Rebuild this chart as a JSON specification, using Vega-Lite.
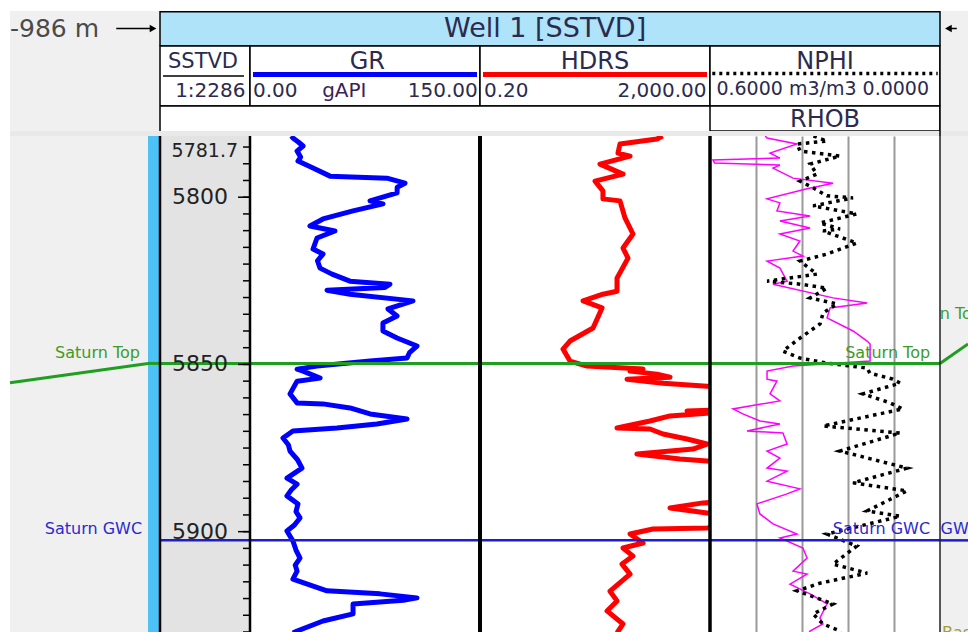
{
"$schema":"https://vega.github.io/schema/vega-lite/v6.json",
"background":"#ffffff",
"padding":{"left":4,"top":10,"right":0,"bottom":0},
"spacing":0,
"bounds":"flush",
"columns":7,
"config":{"view":{"stroke":null},"font":"DejaVu Sans","concat":{"spacing":0}},
"datasets":{
"gr":[
{"depth":5781.7,"GR":27.0},{"depth":5782.3,"GR":28.0},{"depth":5783.5,"GR":31.5},{"depth":5784.7,"GR":34.6},{"depth":5786.2,"GR":30.7},{"depth":5788.0,"GR":33.0},{"depth":5789.2,"GR":31.3},{"depth":5791.3,"GR":41.1},{"depth":5793.7,"GR":52.2},{"depth":5794.3,"GR":89.3},{"depth":5795.8,"GR":101.1},{"depth":5797.0,"GR":96.0},{"depth":5798.7,"GR":95.9},{"depth":5801.1,"GR":78.3},{"depth":5802.0,"GR":86.7},{"depth":5804.1,"GR":67.2},{"depth":5806.5,"GR":47.6},{"depth":5808.6,"GR":39.1},{"depth":5810.1,"GR":55.4},{"depth":5812.2,"GR":43.7},{"depth":5815.5,"GR":41.1},{"depth":5817.0,"GR":47.6},{"depth":5819.0,"GR":44.0},{"depth":5821.2,"GR":45.7},{"depth":5823.0,"GR":53.5},{"depth":5825.1,"GR":65.2},{"depth":5826.0,"GR":91.3},{"depth":5827.0,"GR":88.0},{"depth":5827.8,"GR":50.2},{"depth":5829.0,"GR":65.2},{"depth":5831.0,"GR":106.3},{"depth":5833.4,"GR":90.0},{"depth":5835.5,"GR":95.9},{"depth":5837.6,"GR":86.7},{"depth":5840.0,"GR":86.7},{"depth":5842.1,"GR":95.9},{"depth":5844.5,"GR":108.9},{"depth":5846.5,"GR":104.0},{"depth":5848.1,"GR":102.4},{"depth":5849.0,"GR":78.3},{"depth":5850.5,"GR":43.7},{"depth":5851.4,"GR":30.7},{"depth":5852.0,"GR":34.6},{"depth":5854.1,"GR":45.7},{"depth":5855.0,"GR":30.7},{"depth":5858.8,"GR":26.1},{"depth":5861.5,"GR":30.7},{"depth":5861.8,"GR":47.6},{"depth":5863.0,"GR":65.2},{"depth":5864.8,"GR":78.3},{"depth":5866.3,"GR":102.4},{"depth":5867.8,"GR":82.8},{"depth":5869.0,"GR":56.7},{"depth":5869.9,"GR":28.0},{"depth":5872.0,"GR":21.5},{"depth":5874.0,"GR":25.0},{"depth":5875.9,"GR":26.1},{"depth":5878.5,"GR":31.0},{"depth":5881.0,"GR":33.9},{"depth":5884.0,"GR":24.1},{"depth":5885.8,"GR":30.7},{"depth":5887.5,"GR":27.0},{"depth":5889.3,"GR":24.1},{"depth":5891.7,"GR":31.3},{"depth":5894.0,"GR":30.0},{"depth":5895.9,"GR":32.6},{"depth":5898.0,"GR":29.0},{"depth":5899.8,"GR":24.1},{"depth":5902.8,"GR":28.0},{"depth":5905.5,"GR":30.0},{"depth":5907.9,"GR":32.6},{"depth":5910.0,"GR":29.5},{"depth":5911.8,"GR":30.7},{"depth":5914.2,"GR":28.0},{"depth":5917.7,"GR":50.2},{"depth":5918.6,"GR":84.8},{"depth":5919.8,"GR":108.9},{"depth":5920.5,"GR":100.0},{"depth":5921.6,"GR":67.2},{"depth":5924.6,"GR":67.2},{"depth":5926.7,"GR":47.6},{"depth":5929.7,"GR":30.7},{"depth":5930.3,"GR":28.0}
],
"hdrs":[
{"depth":5781.7,"HDRS":300},{"depth":5782.6,"HDRS":239},{"depth":5784.1,"HDRS":54.4},{"depth":5786.8,"HDRS":50.2},{"depth":5787.7,"HDRS":81.3},{"depth":5790.1,"HDRS":24.4},{"depth":5793.1,"HDRS":61.4},{"depth":5795.2,"HDRS":20},{"depth":5798.1,"HDRS":27.5},{"depth":5800.5,"HDRS":27.5},{"depth":5801.1,"HDRS":54.4},{"depth":5806.2,"HDRS":66.5},{"depth":5811.0,"HDRS":91.6},{"depth":5815.2,"HDRS":61.4},{"depth":5818.2,"HDRS":75},{"depth":5824.2,"HDRS":48.3},{"depth":5828.1,"HDRS":48.3},{"depth":5829.0,"HDRS":27.5},{"depth":5831.0,"HDRS":12.4},{"depth":5833.1,"HDRS":26.5},{"depth":5839.1,"HDRS":18.5},{"depth":5843.0,"HDRS":7.35},{"depth":5845.4,"HDRS":5.55},{"depth":5849.0,"HDRS":7.35},{"depth":5850.5,"HDRS":14.5},{"depth":5851.4,"HDRS":137},{"depth":5852.0,"HDRS":81},{"depth":5852.9,"HDRS":239},{"depth":5853.8,"HDRS":403},{"depth":5854.4,"HDRS":72},{"depth":5855.6,"HDRS":305},{"depth":5856.5,"HDRS":1774},{"depth":5857.0,"HDRS":6000},{"depth":5863.5,"HDRS":6000},{"depth":5863.9,"HDRS":796},{"depth":5864.5,"HDRS":2000},{"depth":5865.4,"HDRS":403},{"depth":5866.9,"HDRS":181},{"depth":5869.0,"HDRS":48.3},{"depth":5869.3,"HDRS":181},{"depth":5870.8,"HDRS":305},{"depth":5872.3,"HDRS":796},{"depth":5873.8,"HDRS":1774},{"depth":5875.3,"HDRS":1012},{"depth":5876.8,"HDRS":107},{"depth":5878.3,"HDRS":601},{"depth":5878.9,"HDRS":1774},{"depth":5879.5,"HDRS":6000},{"depth":5891.0,"HDRS":6000},{"depth":5891.4,"HDRS":1510},{"depth":5892.9,"HDRS":403},{"depth":5894.4,"HDRS":1774},{"depth":5895.0,"HDRS":6000},{"depth":5898.5,"HDRS":6000},{"depth":5898.9,"HDRS":1774},{"depth":5899.2,"HDRS":204},{"depth":5900.7,"HDRS":81.3},{"depth":5903.4,"HDRS":137},{"depth":5904.9,"HDRS":61.4},{"depth":5907.3,"HDRS":91.6},{"depth":5909.7,"HDRS":59},{"depth":5912.7,"HDRS":81.3},{"depth":5917.8,"HDRS":36.5},{"depth":5920.7,"HDRS":48.3},{"depth":5923.7,"HDRS":32.4},{"depth":5927.6,"HDRS":61.4},{"depth":5930.3,"HDRS":48.3}
],
"nphi":[
{"depth":5781.7,"NPHI":0.33},{"depth":5783.2,"NPHI":0.295},{"depth":5784.1,"NPHI":0.373},{"depth":5786.2,"NPHI":0.365},{"depth":5787.7,"NPHI":0.261},{"depth":5790.1,"NPHI":0.339},{"depth":5793.1,"NPHI":0.321},{"depth":5795.2,"NPHI":0.365},{"depth":5797.2,"NPHI":0.331},{"depth":5799.6,"NPHI":0.295},{"depth":5800.2,"NPHI":0.227},{"depth":5802.6,"NPHI":0.331},{"depth":5805.0,"NPHI":0.217},{"depth":5807.7,"NPHI":0.313},{"depth":5809.5,"NPHI":0.261},{"depth":5810.1,"NPHI":0.305},{"depth":5813.7,"NPHI":0.217},{"depth":5817.0,"NPHI":0.295},{"depth":5819.1,"NPHI":0.365},{"depth":5823.0,"NPHI":0.321},{"depth":5825.1,"NPHI":0.451},{"depth":5826.0,"NPHI":0.365},{"depth":5827.2,"NPHI":0.295},{"depth":5830.1,"NPHI":0.339},{"depth":5831.9,"NPHI":0.269},{"depth":5834.6,"NPHI":0.305},{"depth":5837.9,"NPHI":0.313},{"depth":5842.1,"NPHI":0.365},{"depth":5846.0,"NPHI":0.41},{"depth":5848.1,"NPHI":0.365},{"depth":5849.6,"NPHI":0.295},{"depth":5851.1,"NPHI":0.19},{"depth":5852.6,"NPHI":0.183},{"depth":5854.4,"NPHI":0.123},{"depth":5855.6,"NPHI":0.104},{"depth":5858.8,"NPHI":0.201},{"depth":5861.5,"NPHI":0.13},{"depth":5863.3,"NPHI":0.097},{"depth":5868.4,"NPHI":0.305},{"depth":5870.5,"NPHI":0.104},{"depth":5875.9,"NPHI":0.261},{"depth":5881.0,"NPHI":0.086},{"depth":5885.4,"NPHI":0.227},{"depth":5887.8,"NPHI":0.086},{"depth":5893.8,"NPHI":0.19},{"depth":5895.4,"NPHI":0.104},{"depth":5900.7,"NPHI":0.295},{"depth":5904.3,"NPHI":0.217},{"depth":5909.7,"NPHI":0.279},{"depth":5912.4,"NPHI":0.19},{"depth":5915.4,"NPHI":0.313},{"depth":5917.7,"NPHI":0.373},{"depth":5921.6,"NPHI":0.279},{"depth":5924.6,"NPHI":0.331},{"depth":5927.6,"NPHI":0.305},{"depth":5929.7,"NPHI":0.261},{"depth":5930.3,"NPHI":0.26}
],
"rhob":[
{"depth":5781.7,"RHOB":2.19},{"depth":5782.3,"RHOB":2.198},{"depth":5784.1,"RHOB":2.328},{"depth":5786.8,"RHOB":2.211},{"depth":5788.3,"RHOB":2.254},{"depth":5788.9,"RHOB":1.963},{"depth":5789.8,"RHOB":1.97},{"depth":5790.4,"RHOB":2.254},{"depth":5791.3,"RHOB":2.224},{"depth":5794.3,"RHOB":2.311},{"depth":5795.8,"RHOB":2.485},{"depth":5797.5,"RHOB":2.372},{"depth":5800.5,"RHOB":2.198},{"depth":5801.7,"RHOB":2.254},{"depth":5804.1,"RHOB":2.241},{"depth":5805.6,"RHOB":2.385},{"depth":5807.1,"RHOB":2.254},{"depth":5809.2,"RHOB":2.385},{"depth":5811.0,"RHOB":2.254},{"depth":5813.1,"RHOB":2.341},{"depth":5816.1,"RHOB":2.311},{"depth":5817.6,"RHOB":2.354},{"depth":5819.1,"RHOB":2.198},{"depth":5821.2,"RHOB":2.254},{"depth":5825.1,"RHOB":2.285},{"depth":5826.0,"RHOB":2.224},{"depth":5830.1,"RHOB":2.485},{"depth":5831.6,"RHOB":2.633},{"depth":5833.1,"RHOB":2.472},{"depth":5836.1,"RHOB":2.459},{"depth":5840.0,"RHOB":2.572},{"depth":5843.0,"RHOB":2.633},{"depth":5843.9,"RHOB":2.646},{"depth":5849.0,"RHOB":2.646},{"depth":5850.5,"RHOB":2.311},{"depth":5852.0,"RHOB":2.198},{"depth":5854.4,"RHOB":2.198},{"depth":5855.0,"RHOB":2.241},{"depth":5858.8,"RHOB":2.211},{"depth":5860.9,"RHOB":2.254},{"depth":5863.3,"RHOB":2.05},{"depth":5864.8,"RHOB":2.093},{"depth":5866.9,"RHOB":2.167},{"depth":5867.8,"RHOB":2.254},{"depth":5869.9,"RHOB":2.111},{"depth":5870.5,"RHOB":2.267},{"depth":5873.8,"RHOB":2.285},{"depth":5875.9,"RHOB":2.198},{"depth":5878.0,"RHOB":2.254},{"depth":5881.0,"RHOB":2.198},{"depth":5881.9,"RHOB":2.285},{"depth":5884.9,"RHOB":2.198},{"depth":5887.2,"RHOB":2.341},{"depth":5888.7,"RHOB":2.285},{"depth":5891.7,"RHOB":2.154},{"depth":5894.7,"RHOB":2.167},{"depth":5897.7,"RHOB":2.224},{"depth":5900.7,"RHOB":2.328},{"depth":5901.9,"RHOB":2.254},{"depth":5904.9,"RHOB":2.354},{"depth":5907.9,"RHOB":2.372},{"depth":5911.8,"RHOB":2.311},{"depth":5912.7,"RHOB":2.372},{"depth":5915.7,"RHOB":2.298},{"depth":5918.6,"RHOB":2.385},{"depth":5921.6,"RHOB":2.459},{"depth":5925.8,"RHOB":2.428},{"depth":5927.6,"RHOB":2.441},{"depth":5929.7,"RHOB":2.385},{"depth":5930.3,"RHOB":2.38}
],
"ticks":[{"depth":5785},{"depth":5790},{"depth":5795},{"depth":5800},{"depth":5805},{"depth":5810},{"depth":5815},{"depth":5820},{"depth":5825},{"depth":5830},{"depth":5835},{"depth":5840},{"depth":5845},{"depth":5850},{"depth":5855},{"depth":5860},{"depth":5865},{"depth":5870},{"depth":5875},{"depth":5880},{"depth":5885},{"depth":5890},{"depth":5895},{"depth":5900},{"depth":5905},{"depth":5910},{"depth":5915},{"depth":5920},{"depth":5925},{"depth":5930}],
"major":[{"depth":5800,"label":"5800"},{"depth":5850,"label":"5850"},{"depth":5900,"label":"5900"}]
},
"concat":[
 {"width":138,"height":35,"view":{"fill":"#f0f0f0","stroke":null},
  "layer":[
   {"data":{"values":[{"label":"-986 m"}]},"mark":{"type":"text","align":"left","baseline":"middle","fontSize":25,"color":"#4a4a4a"},
    "encoding":{"text":{"field":"label"},"x":{"datum":0,"type":"quantitative","scale":{"domain":[0,1],"nice":false,"zero":false},"axis":null},"y":{"datum":0.5,"type":"quantitative","scale":{"domain":[0,1],"nice":false,"zero":false},"axis":null}}},
   {"data":{"values":[{}]},"mark":{"type":"rule","color":"#000000","strokeWidth":1.5},
    "encoding":{"x":{"datum":0.77,"type":"quantitative","axis":null},"x2":{"datum":1},"y":{"datum":0.5,"type":"quantitative","axis":null}}}
  ]},
 {"width":12,"height":35,"view":{"fill":"#f0f0f0","stroke":null},
  "layer":[
   {"data":{"values":[{}]},"mark":{"type":"rule","color":"#000000","strokeWidth":1.5},
    "encoding":{"x":{"datum":0,"type":"quantitative","scale":{"domain":[0,1],"nice":false,"zero":false},"axis":null},"x2":{"datum":0.3},"y":{"datum":0.5,"type":"quantitative","scale":{"domain":[0,1],"nice":false,"zero":false},"axis":null}}},
   {"data":{"values":[{}]},"mark":{"type":"point","shape":"triangle-right","filled":true,"color":"#000000","size":60,"opacity":1},
    "encoding":{"x":{"datum":0.42,"type":"quantitative","axis":null},"y":{"datum":0.5,"type":"quantitative","axis":null}}}
  ]},
 {"width":90,"height":35,"view":{"fill":"#aee3fa","stroke":null},"data":{"values":[{}]},
  "layer":[
   {"mark":{"type":"rule","color":"#000000","strokeWidth":1.5},"encoding":{"y":{"datum":0.978,"type":"quantitative","scale":{"domain":[0,1],"nice":false,"zero":false},"axis":null}}},
   {"mark":{"type":"rule","color":"#000000","strokeWidth":1.5},"encoding":{"y":{"datum":0.0,"type":"quantitative","axis":null}}},
   {"mark":{"type":"rule","color":"#000000","strokeWidth":1.5},"encoding":{"x":{"datum":0,"type":"quantitative","scale":{"domain":[0,1],"nice":false,"zero":false},"axis":null}}}
  ]},
 {"width":230,"height":35,"view":{"fill":"#aee3fa","stroke":null},"data":{"values":[{}]},
  "layer":[
   {"mark":{"type":"rule","color":"#000000","strokeWidth":1.5},"encoding":{"y":{"datum":0.978,"type":"quantitative","scale":{"domain":[0,1],"nice":false,"zero":false},"axis":null}}},
   {"mark":{"type":"rule","color":"#000000","strokeWidth":1.5},"encoding":{"y":{"datum":0.0,"type":"quantitative","axis":null}}}
  ]},
 {"width":230,"height":35,"view":{"fill":"#aee3fa","stroke":null},"data":{"values":[{"label":"Well 1 [SSTVD]"}]},
  "layer":[
   {"mark":{"type":"rule","color":"#000000","strokeWidth":1.5},"encoding":{"y":{"datum":0.978,"type":"quantitative","scale":{"domain":[0,1],"nice":false,"zero":false},"axis":null}}},
   {"mark":{"type":"rule","color":"#000000","strokeWidth":1.5},"encoding":{"y":{"datum":0.0,"type":"quantitative","axis":null}}},
   {"mark":{"type":"text","align":"center","baseline":"middle","fontSize":27,"color":"#2b2b4f"},
    "encoding":{"text":{"field":"label"},"x":{"datum":0.283,"type":"quantitative","scale":{"domain":[0,1],"nice":false,"zero":false},"axis":null},"y":{"datum":0.5,"type":"quantitative","axis":null}}}
  ]},
 {"width":230,"height":35,"view":{"fill":"#aee3fa","stroke":null},"data":{"values":[{}]},
  "layer":[
   {"mark":{"type":"rule","color":"#000000","strokeWidth":1.5},"encoding":{"y":{"datum":0.978,"type":"quantitative","scale":{"domain":[0,1],"nice":false,"zero":false},"axis":null}}},
   {"mark":{"type":"rule","color":"#000000","strokeWidth":1.5},"encoding":{"y":{"datum":0.0,"type":"quantitative","axis":null}}}
  ]},
 {"width":28,"height":35,"view":{"fill":"#f0f0f0","stroke":null},"data":{"values":[{}]},
  "layer":[
   {"mark":{"type":"rule","color":"#000000","strokeWidth":1.5},"encoding":{"x":{"datum":0,"type":"quantitative","scale":{"domain":[0,1],"nice":false,"zero":false},"axis":null}}},
   {"mark":{"type":"rule","color":"#000000","strokeWidth":1.5},"encoding":{"x":{"datum":0.25,"type":"quantitative","axis":null},"x2":{"datum":0.6},"y":{"datum":0.5,"type":"quantitative","scale":{"domain":[0,1],"nice":false,"zero":false},"axis":null}}},
   {"mark":{"type":"point","shape":"triangle-left","filled":true,"color":"#000000","size":60,"opacity":1},"encoding":{"x":{"datum":0.3,"type":"quantitative","axis":null},"y":{"datum":0.5,"type":"quantitative","axis":null}}}
  ]},

 {"width":138,"height":60,"view":{"fill":"#f0f0f0","stroke":null},"data":{"values":[{}]},"mark":{"type":"text","text":""}},
 {"width":12,"height":60,"view":{"fill":"#f0f0f0","stroke":null},"data":{"values":[{}]},"mark":{"type":"text","text":""}},
 {"width":90,"height":60,"view":{"fill":"#ffffff","stroke":"#000000","strokeWidth":1.5},
  "layer":[
   {"data":{"values":[{"label":"SSTVD"}]},"mark":{"type":"text","align":"center","baseline":"middle","fontSize":21,"color":"#2b2b4f"},
    "encoding":{"text":{"field":"label"},"x":{"datum":0.478,"type":"quantitative","scale":{"domain":[0,1],"nice":false,"zero":false},"axis":null},"y":{"datum":0.733,"type":"quantitative","scale":{"domain":[0,1],"nice":false,"zero":false},"axis":null}}},
   {"data":{"values":[{}]},"mark":{"type":"rule","color":"#000000","strokeWidth":1.5},
    "encoding":{"x":{"datum":0.033,"type":"quantitative","axis":null},"x2":{"datum":0.933},"y":{"datum":0.5,"type":"quantitative","axis":null}}},
   {"data":{"values":[{"label":"1:2286"}]},"mark":{"type":"text","align":"right","baseline":"middle","fontSize":20,"color":"#2b2b4f"},
    "encoding":{"text":{"field":"label"},"x":{"datum":0.95,"type":"quantitative","axis":null},"y":{"datum":0.25,"type":"quantitative","axis":null}}}
  ]},
 {"width":230,"height":60,"view":{"fill":"#ffffff","stroke":"#000000","strokeWidth":1.5},
  "layer":[
   {"data":{"values":[{"label":"GR"}]},"mark":{"type":"text","align":"center","baseline":"middle","fontSize":24,"color":"#2b2b4f"},
    "encoding":{"text":{"field":"label"},"x":{"datum":0.51,"type":"quantitative","scale":{"domain":[0,1],"nice":false,"zero":false},"axis":null},"y":{"datum":0.74,"type":"quantitative","scale":{"domain":[0,1],"nice":false,"zero":false},"axis":null}}},
   {"data":{"values":[{}]},"mark":{"type":"rule","color":"#0000ff","strokeWidth":5},
    "encoding":{"x":{"datum":0.013,"type":"quantitative","axis":null},"x2":{"datum":0.987},"y":{"datum":0.525,"type":"quantitative","axis":null}}},
   {"data":{"values":[{"label":"0.00"}]},"mark":{"type":"text","align":"left","baseline":"middle","fontSize":20,"color":"#2b2b4f"},
    "encoding":{"text":{"field":"label"},"x":{"datum":0.013,"type":"quantitative","axis":null},"y":{"datum":0.25,"type":"quantitative","axis":null}}},
   {"data":{"values":[{"label":"gAPI"}]},"mark":{"type":"text","align":"center","baseline":"middle","fontSize":20,"color":"#3a1f5a"},
    "encoding":{"text":{"field":"label"},"x":{"datum":0.41,"type":"quantitative","axis":null},"y":{"datum":0.25,"type":"quantitative","axis":null}}},
   {"data":{"values":[{"label":"150.00"}]},"mark":{"type":"text","align":"right","baseline":"middle","fontSize":20,"color":"#2b2b4f"},
    "encoding":{"text":{"field":"label"},"x":{"datum":0.99,"type":"quantitative","axis":null},"y":{"datum":0.25,"type":"quantitative","axis":null}}}
  ]},
 {"width":230,"height":60,"view":{"fill":"#ffffff","stroke":"#000000","strokeWidth":1.5},
  "layer":[
   {"data":{"values":[{"label":"HDRS"}]},"mark":{"type":"text","align":"center","baseline":"middle","fontSize":24,"color":"#2b2b4f"},
    "encoding":{"text":{"field":"label"},"x":{"datum":0.5,"type":"quantitative","scale":{"domain":[0,1],"nice":false,"zero":false},"axis":null},"y":{"datum":0.74,"type":"quantitative","scale":{"domain":[0,1],"nice":false,"zero":false},"axis":null}}},
   {"data":{"values":[{}]},"mark":{"type":"rule","color":"#ff0000","strokeWidth":5},
    "encoding":{"x":{"datum":0.013,"type":"quantitative","axis":null},"x2":{"datum":0.987},"y":{"datum":0.525,"type":"quantitative","axis":null}}},
   {"data":{"values":[{"label":"0.20"}]},"mark":{"type":"text","align":"left","baseline":"middle","fontSize":20,"color":"#2b2b4f"},
    "encoding":{"text":{"field":"label"},"x":{"datum":0.017,"type":"quantitative","axis":null},"y":{"datum":0.25,"type":"quantitative","axis":null}}},
   {"data":{"values":[{"label":"2,000.00"}]},"mark":{"type":"text","align":"right","baseline":"middle","fontSize":20,"color":"#2b2b4f"},
    "encoding":{"text":{"field":"label"},"x":{"datum":0.985,"type":"quantitative","axis":null},"y":{"datum":0.25,"type":"quantitative","axis":null}}}
  ]},
 {"width":230,"height":60,"view":{"fill":"#ffffff","stroke":"#000000","strokeWidth":1.5},
  "layer":[
   {"data":{"values":[{"label":"NPHI"}]},"mark":{"type":"text","align":"center","baseline":"middle","fontSize":24,"color":"#2b2b4f"},
    "encoding":{"text":{"field":"label"},"x":{"datum":0.5,"type":"quantitative","scale":{"domain":[0,1],"nice":false,"zero":false},"axis":null},"y":{"datum":0.74,"type":"quantitative","scale":{"domain":[0,1],"nice":false,"zero":false},"axis":null}}},
   {"data":{"values":[{}]},"mark":{"type":"rule","color":"#000000","strokeWidth":3.5,"strokeDash":[3,4]},
    "encoding":{"x":{"datum":0.01,"type":"quantitative","axis":null},"x2":{"datum":0.99},"y":{"datum":0.54,"type":"quantitative","axis":null}}},
   {"data":{"values":[{"label":"0.6000 m3/m3 0.0000"}]},"mark":{"type":"text","align":"center","baseline":"middle","fontSize":19,"color":"#2b2b4f"},
    "encoding":{"text":{"field":"label"},"x":{"datum":0.49,"type":"quantitative","axis":null},"y":{"datum":0.283,"type":"quantitative","axis":null}}}
  ]},
 {"width":28,"height":60,"view":{"fill":"#f0f0f0","stroke":null},"data":{"values":[{}]},"mark":{"type":"rule","color":"#000000","strokeWidth":1.5},
  "encoding":{"x":{"datum":0,"type":"quantitative","scale":{"domain":[0,1],"nice":false,"zero":false},"axis":null}}},

 {"width":138,"height":25,"view":{"fill":"#f0f0f0","stroke":null},"data":{"values":[{}]},"mark":{"type":"text","text":""}},
 {"width":12,"height":25,"view":{"fill":"#f0f0f0","stroke":null},"data":{"values":[{}]},"mark":{"type":"text","text":""}},
 {"width":90,"height":25,"view":{"fill":"#ffffff","stroke":null},"data":{"values":[{}]},
  "layer":[
   {"mark":{"type":"rule","color":"#000000","strokeWidth":1.5},"encoding":{"y":{"datum":1,"type":"quantitative","scale":{"domain":[0,1],"nice":false,"zero":false},"axis":null}}},
   {"mark":{"type":"rule","color":"#000000","strokeWidth":1.5},"encoding":{"x":{"datum":0,"type":"quantitative","scale":{"domain":[0,1],"nice":false,"zero":false},"axis":null}}}
  ]},
 {"width":230,"height":25,"view":{"fill":"#ffffff","stroke":null},"data":{"values":[{}]},"mark":{"type":"rule","color":"#000000","strokeWidth":1.5},
  "encoding":{"y":{"datum":1,"type":"quantitative","scale":{"domain":[0,1],"nice":false,"zero":false},"axis":null}}},
 {"width":230,"height":25,"view":{"fill":"#ffffff","stroke":null},"data":{"values":[{}]},"mark":{"type":"rule","color":"#000000","strokeWidth":1.5},
  "encoding":{"y":{"datum":1,"type":"quantitative","scale":{"domain":[0,1],"nice":false,"zero":false},"axis":null}}},
 {"width":230,"height":25,"view":{"fill":"#ffffff","stroke":"#000000","strokeWidth":1.5},
  "data":{"values":[{"label":"RHOB"}]},
  "mark":{"type":"text","align":"center","baseline":"middle","fontSize":24,"color":"#2b2b4f"},
  "encoding":{"text":{"field":"label"},"x":{"datum":0.5,"type":"quantitative","scale":{"domain":[0,1],"nice":false,"zero":false},"axis":null},"y":{"datum":0.45,"type":"quantitative","scale":{"domain":[0,1],"nice":false,"zero":false},"axis":null}}},
 {"width":28,"height":25,"view":{"fill":"#f0f0f0","stroke":null},"data":{"values":[{}]},"mark":{"type":"rule","color":"#000000","strokeWidth":1.5},
  "encoding":{"x":{"datum":0,"type":"quantitative","scale":{"domain":[0,1],"nice":false,"zero":false},"axis":null}}},

 {"width":138,"height":5,"view":{"fill":"#e9e9e9","stroke":null},"data":{"values":[{}]},"mark":{"type":"text","text":""}},
 {"width":12,"height":5,"view":{"fill":"#e9e9e9","stroke":null},"data":{"values":[{}]},"mark":{"type":"text","text":""}},
 {"width":90,"height":5,"view":{"fill":"#e9e9e9","stroke":null},"data":{"values":[{}]},"mark":{"type":"text","text":""}},
 {"width":230,"height":5,"view":{"fill":"#e9e9e9","stroke":null},"data":{"values":[{}]},"mark":{"type":"text","text":""}},
 {"width":230,"height":5,"view":{"fill":"#e9e9e9","stroke":null},"data":{"values":[{}]},"mark":{"type":"text","text":""}},
 {"width":230,"height":5,"view":{"fill":"#e9e9e9","stroke":null},"data":{"values":[{}]},"mark":{"type":"text","text":""}},
 {"width":28,"height":5,"view":{"fill":"#e9e9e9","stroke":null},"data":{"values":[{}]},"mark":{"type":"rule","color":"#000000","strokeWidth":1.5},
  "encoding":{"x":{"datum":0,"type":"quantitative","scale":{"domain":[0,1],"nice":false,"zero":false},"axis":null}}},

 {"width":138,"height":497,"view":{"fill":"#f0f0f0","stroke":null},
  "layer":[
   {"data":{"values":[{"pos":0,"depth":5855.45},{"pos":1,"depth":5849.7}]},"mark":{"type":"line","color":"#1f9e1f","strokeWidth":3},
    "encoding":{"x":{"field":"pos","type":"quantitative","scale":{"domain":[0,1],"nice":false,"zero":false},"axis":null},"y":{"field":"depth","type":"quantitative","scale":{"domain":[5781.7,5930.3],"reverse":true,"nice":false,"zero":false},"axis":null}}},
   {"data":{"values":[{"marker":"Saturn Top","depth":5849.7}]},"mark":{"type":"text","align":"right","baseline":"middle","fontSize":16,"color":"#3c9c28","dy":-10},
    "encoding":{"text":{"field":"marker"},"x":{"datum":0.942,"type":"quantitative","axis":null},"y":{"field":"depth","type":"quantitative","axis":null}}},
   {"data":{"values":[{"marker":"Saturn GWC","depth":5902.6}]},"mark":{"type":"text","align":"right","baseline":"middle","fontSize":16,"color":"#2a2ad0","dy":-11},
    "encoding":{"text":{"field":"marker"},"x":{"datum":0.957,"type":"quantitative","axis":null},"y":{"field":"depth","type":"quantitative","axis":null}}}
  ]},
 {"width":12,"height":497,"view":{"fill":"#4cc2f6","stroke":null},
  "data":{"values":[{"depth":5849.7}]},"mark":{"type":"rule","color":"#1f9e1f","strokeWidth":3},
  "encoding":{"y":{"field":"depth","type":"quantitative","scale":{"domain":[5781.7,5930.3],"reverse":true,"nice":false,"zero":false},"axis":null}}},
 {"width":90,"height":497,"view":{"fill":"#e3e3e3","stroke":null},
  "layer":[
   {"data":{"values":[{"depth":5849.7}]},"mark":{"type":"rule","color":"#1f9e1f","strokeWidth":3},
    "encoding":{"y":{"field":"depth","type":"quantitative","scale":{"domain":[5781.7,5930.3],"reverse":true,"nice":false,"zero":false},"axis":null}}},
   {"data":{"values":[{"depth":5902.6}]},"mark":{"type":"rule","color":"#1c1cd0","strokeWidth":2.5},
    "encoding":{"y":{"field":"depth","type":"quantitative","axis":null}}},
   {"data":{"name":"ticks"},"mark":{"type":"rule","color":"#000000","strokeWidth":1.5},
    "encoding":{"x":{"datum":0.922,"type":"quantitative","scale":{"domain":[0,1],"nice":false,"zero":false},"axis":null},"x2":{"datum":1},"y":{"field":"depth","type":"quantitative","axis":null}}},
   {"data":{"name":"major"},"mark":{"type":"rule","color":"#000000","strokeWidth":1.5},
    "encoding":{"x":{"datum":0.867,"type":"quantitative","axis":null},"x2":{"datum":1},"y":{"field":"depth","type":"quantitative","axis":null}}},
   {"data":{"name":"major"},"mark":{"type":"text","align":"right","baseline":"middle","fontSize":22,"color":"#222222"},
    "encoding":{"text":{"field":"label"},"x":{"datum":0.756,"type":"quantitative","axis":null},"y":{"field":"depth","type":"quantitative","axis":null}}},
   {"data":{"values":[{"depth":5781.7,"label":"5781.7"}]},"mark":{"type":"text","align":"right","baseline":"top","dy":6,"fontSize":19,"color":"#222222"},
    "encoding":{"text":{"field":"label"},"x":{"datum":0.867,"type":"quantitative","axis":null},"y":{"field":"depth","type":"quantitative","axis":null}}},
   {"data":{"values":[{}]},"mark":{"type":"rule","color":"#000000","strokeWidth":2.5},
    "encoding":{"x":{"datum":0,"type":"quantitative","axis":null}}}
  ]},
 {"width":230,"height":497,"view":{"fill":"#ffffff","stroke":null},
  "layer":[
   {"data":{"name":"gr"},"mark":{"type":"line","color":"#0000ff","strokeWidth":5,"clip":true,"strokeJoin":"round"},
    "encoding":{"x":{"field":"GR","type":"quantitative","scale":{"domain":[0,150],"nice":false,"zero":false},"axis":null},
     "y":{"field":"depth","type":"quantitative","scale":{"domain":[5781.7,5930.3],"reverse":true,"nice":false,"zero":false},"axis":{"values":[5800,5850,5900],"grid":true,"gridColor":"#000000","gridWidth":1.5,"gridOpacity":1,"labels":false,"ticks":false,"domain":false,"title":null}},
     "order":{"field":"depth","type":"quantitative"}}},
   {"data":{"values":[{"depth":5849.7}]},"mark":{"type":"rule","color":"#1f9e1f","strokeWidth":3},
    "encoding":{"y":{"field":"depth","type":"quantitative","axis":null}}},
   {"data":{"values":[{"depth":5902.6}]},"mark":{"type":"rule","color":"#1c1cd0","strokeWidth":2.5},
    "encoding":{"y":{"field":"depth","type":"quantitative","axis":null}}},
   {"data":{"values":[{}]},"mark":{"type":"rule","color":"#000000","strokeWidth":2.5},
    "encoding":{"x":{"datum":0,"type":"quantitative","axis":null}}}
  ]},
 {"width":230,"height":497,"view":{"fill":"#ffffff","stroke":null},
  "layer":[
   {"data":{"name":"hdrs"},"mark":{"type":"line","color":"#ff0000","strokeWidth":5,"clip":true,"strokeJoin":"round"},
    "encoding":{"x":{"field":"HDRS","type":"quantitative","scale":{"type":"log","domain":[0.2,2000],"nice":false},"axis":null},
     "y":{"field":"depth","type":"quantitative","scale":{"domain":[5781.7,5930.3],"reverse":true,"nice":false,"zero":false},"axis":{"values":[5800,5850,5900],"grid":true,"gridColor":"#000000","gridWidth":1.5,"gridOpacity":1,"labels":false,"ticks":false,"domain":false,"title":null}},
     "order":{"field":"depth","type":"quantitative"}}},
   {"data":{"values":[{"depth":5849.7}]},"mark":{"type":"rule","color":"#1f9e1f","strokeWidth":3},
    "encoding":{"y":{"field":"depth","type":"quantitative","axis":null}}},
   {"data":{"values":[{"depth":5902.6}]},"mark":{"type":"rule","color":"#1c1cd0","strokeWidth":2.5},
    "encoding":{"y":{"field":"depth","type":"quantitative","axis":null}}},
   {"data":{"values":[{}]},"mark":{"type":"rule","color":"#000000","strokeWidth":4},
    "encoding":{"x":{"datum":0.2,"type":"quantitative","axis":null}}}
  ]},
 {"width":230,"height":497,"view":{"fill":"#ffffff","stroke":null},
  "resolve":{"scale":{"x":"independent"}},
  "layer":[
   {"data":{"name":"rhob"},"mark":{"type":"line","color":"#ff00ff","strokeWidth":1.5,"clip":true},
    "encoding":{"x":{"field":"RHOB","type":"quantitative","scale":{"domain":[1.95,2.95],"nice":false,"zero":false},"axis":null},
     "y":{"field":"depth","type":"quantitative","scale":{"domain":[5781.7,5930.3],"reverse":true,"nice":false,"zero":false},"axis":{"values":[5800,5850,5900],"grid":true,"gridColor":"#000000","gridWidth":1.5,"gridOpacity":1,"labels":false,"ticks":false,"domain":false,"title":null}},
     "order":{"field":"depth","type":"quantitative"}}},
   {"data":{"name":"nphi"},"mark":{"type":"line","color":"#000000","strokeWidth":3.5,"strokeDash":[3.5,4.5],"strokeCap":"butt","clip":true},
    "encoding":{"x":{"field":"NPHI","type":"quantitative","scale":{"domain":[0,0.6],"reverse":true,"nice":false,"zero":false},"axis":{"values":[0.12,0.24,0.36,0.48],"grid":true,"gridColor":"#9a9a9a","gridWidth":2,"gridOpacity":1,"labels":false,"ticks":false,"domain":false,"title":null}},
     "y":{"field":"depth","type":"quantitative","axis":null},
     "order":{"field":"depth","type":"quantitative"}}},
   {"data":{"values":[{"depth":5849.7}]},"mark":{"type":"rule","color":"#1f9e1f","strokeWidth":3},
    "encoding":{"y":{"field":"depth","type":"quantitative","axis":null}}},
   {"data":{"values":[{"depth":5902.6}]},"mark":{"type":"rule","color":"#1c1cd0","strokeWidth":2.5},
    "encoding":{"y":{"field":"depth","type":"quantitative","axis":null}}},
   {"data":{"values":[{"marker":"Saturn Top","depth":5849.7}]},"mark":{"type":"text","align":"right","baseline":"middle","fontSize":16,"color":"#3c9c28","dy":-10},
    "encoding":{"text":{"field":"marker"},"x":{"datum":0.957,"type":"quantitative","scale":{"domain":[0,1],"nice":false,"zero":false},"axis":null},"y":{"field":"depth","type":"quantitative","axis":null}}},
   {"data":{"values":[{"marker":"Saturn GWC","depth":5902.6}]},"mark":{"type":"text","align":"right","baseline":"middle","fontSize":16,"color":"#2a2ad0","dy":-11},
    "encoding":{"text":{"field":"marker"},"x":{"datum":0.957,"type":"quantitative","scale":{"domain":[0,1],"nice":false,"zero":false},"axis":null},"y":{"field":"depth","type":"quantitative","axis":null}}},
   {"data":{"values":[{}]},"mark":{"type":"rule","color":"#000000","strokeWidth":3.5},
    "encoding":{"x":{"datum":0,"type":"quantitative","scale":{"domain":[0,1],"nice":false,"zero":false},"axis":null}}}
  ]},
 {"width":28,"height":497,"view":{"fill":"#f0f0f0","stroke":null},
  "layer":[
   {"data":{"values":[{"pos":0,"depth":5849.7},{"pos":1,"depth":5843.9}]},"mark":{"type":"line","color":"#1f9e1f","strokeWidth":3},
    "encoding":{"x":{"field":"pos","type":"quantitative","scale":{"domain":[0,1],"nice":false,"zero":false},"axis":null},"y":{"field":"depth","type":"quantitative","scale":{"domain":[5781.7,5930.3],"reverse":true,"nice":false,"zero":false},"axis":null}}},
   {"data":{"values":[{"depth":5902.6}]},"mark":{"type":"rule","color":"#1c1cd0","strokeWidth":2.5},
    "encoding":{"y":{"field":"depth","type":"quantitative","axis":null}}},
   {"data":{"values":[{"marker":"Saturn Top","depth":5838}]},"mark":{"type":"text","align":"right","baseline":"middle","fontSize":16,"color":"#3ea02a","dx":14,"dy":-10,"clip":true},
    "encoding":{"text":{"field":"marker"},"x":{"datum":1,"type":"quantitative","axis":null},"y":{"field":"depth","type":"quantitative","axis":null}}},
   {"data":{"values":[{"marker":"Saturn GWC","depth":5902.6}]},"mark":{"type":"text","align":"right","baseline":"middle","fontSize":16,"color":"#2a2ad0","dx":12,"dy":-11,"clip":true},
    "encoding":{"text":{"field":"marker"},"x":{"datum":1,"type":"quantitative","axis":null},"y":{"field":"depth","type":"quantitative","axis":null}}},
   {"data":{"values":[{"marker":"Base Saturn","depth":5930.3}]},"mark":{"type":"text","align":"left","baseline":"middle","fontSize":16,"color":"#a0a030","dx":2,"clip":true},
    "encoding":{"text":{"field":"marker"},"x":{"datum":0,"type":"quantitative","axis":null},"y":{"field":"depth","type":"quantitative","axis":null}}},
   {"data":{"values":[{}]},"mark":{"type":"rule","color":"#222222","strokeWidth":1.5},
    "encoding":{"x":{"datum":0,"type":"quantitative","axis":null}}}
  ]}
]
}
